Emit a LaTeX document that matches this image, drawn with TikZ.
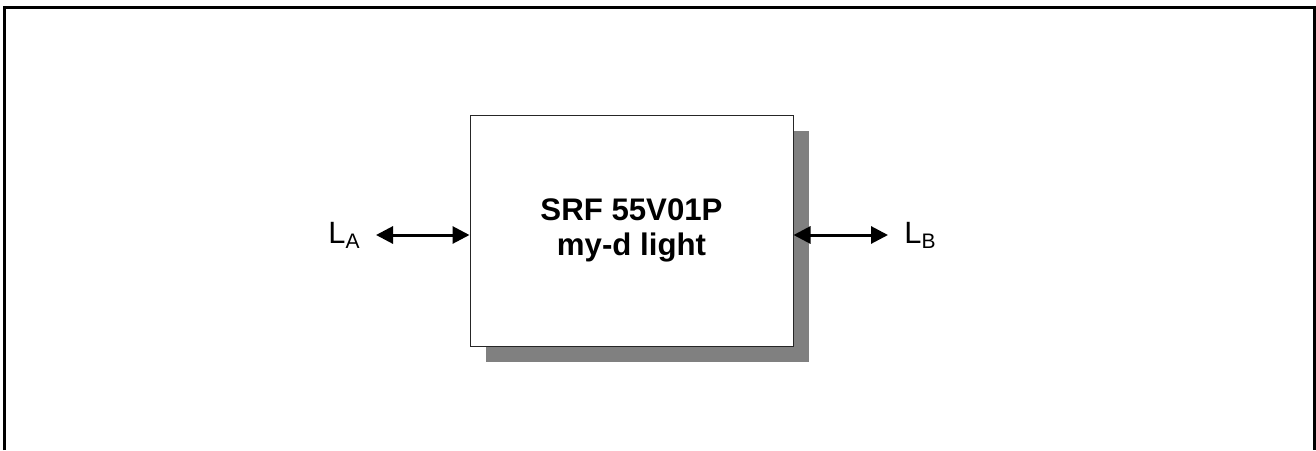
\documentclass[tikz,border=0pt]{standalone}
\usepackage{fontspec}
\setmainfont{Liberation Sans}
\usepackage{tikz}
\usetikzlibrary{arrows.meta,positioning,shadows}
\definecolor{shadowgray}{RGB}{128,128,128}
\newcommand{\portlabel}[1]{L\raisebox{-2.5pt}{\fontsize{10.5}{12}\selectfont #1}}

\begin{document}
\begin{tikzpicture}[x=0.5pt, y=-0.5pt,
    chip/.style={draw=black!85, line width=0.5pt, fill=white, minimum width=161.5pt, minimum height=115.5pt, align=center,
        font=\fontsize{15.6}{17.5}\selectfont\bfseries,
        drop shadow={shadow xshift=8pt, shadow yshift=-8pt, fill=shadowgray, opacity=1}},
    port/.style={font=\fontsize{15.4}{18}\selectfont, inner ysep=0pt, inner xsep=8pt},
    link/.style={{Triangle[length=8.5pt,width=8.5pt]}-{Triangle[length=8.5pt,width=8.5pt]}, line width=1.5pt}]

    \useasboundingbox (0,0) rectangle (1316,450);

    % open frame
    \draw[line width=1.5pt] (4.5,450) -- (4.5,7.5) -- (1314,7.5) -- (1314,450);

    \node[chip] (chip) at (631.5,230.5) {SRF 55V01P\\my-d light};

    \node[port, anchor=east] (la) at (376,235) {\portlabel{A}};
    \node[port, anchor=west] (lb) at (888,235) {\portlabel{B}};

    % LA <-> chip
    \draw[link] (la.east) -- (chip.west |- la.east);

    % chip <-> LB
    \draw[link] (chip.east |- lb.west) -- (lb.west);
\end{tikzpicture}
\end{document}
